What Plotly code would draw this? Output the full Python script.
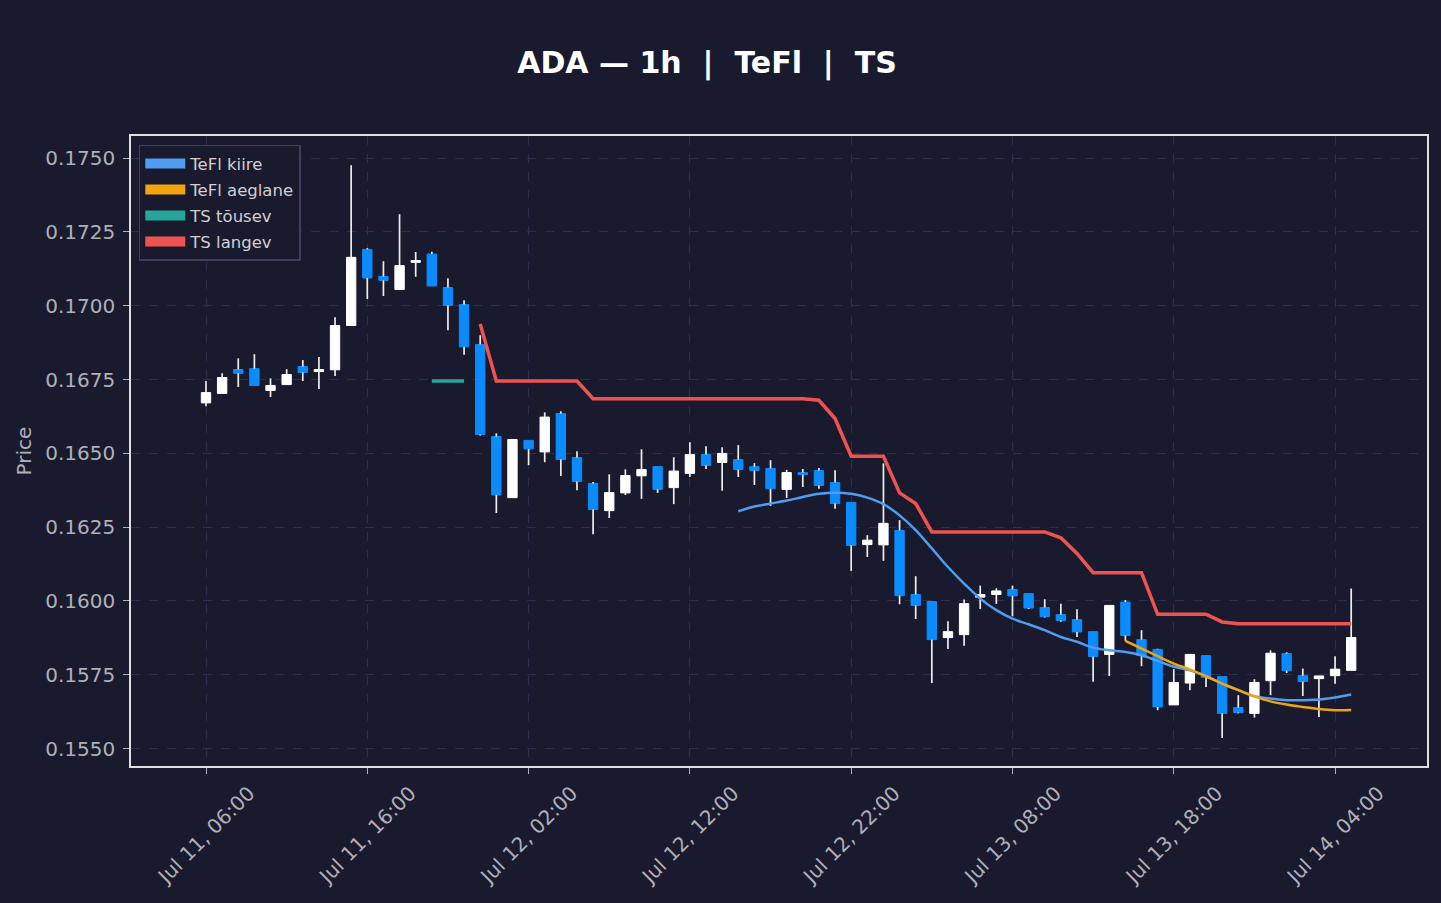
import pandas as pd
import plotly.graph_objects as go

# ---------------- data ----------------
times = pd.date_range("2025-07-11 06:00", periods=72, freq="h")

open_ = [0.16671, 0.16703, 0.16784, 0.16787, 0.16713, 0.16733, 0.16794, 0.16777, 0.16783, 0.16933,
         0.17191, 0.17099, 0.17055, 0.17147, 0.17175, 0.17062, 0.17004, 0.16869, 0.16557, 0.16350,
         0.16544, 0.16505, 0.16635, 0.16486, 0.16398, 0.16306, 0.16366, 0.16424, 0.16455, 0.16384,
         0.16432, 0.16496, 0.16469, 0.16479, 0.16455, 0.16449, 0.16378, 0.16435, 0.16442, 0.16401,
         0.16334, 0.16191, 0.16190, 0.16239, 0.16022, 0.15998, 0.15876, 0.15886, 0.16013, 0.16022,
         0.16039, 0.16025, 0.15978, 0.15954, 0.15937, 0.15896, 0.15819, 0.15996, 0.15869, 0.15836,
         0.15648, 0.15722, 0.15815, 0.15744, 0.15639, 0.15619, 0.15730, 0.15822, 0.15747, 0.15737,
         0.15747, 0.15765]
high = [0.16745, 0.16771, 0.16822, 0.16836, 0.16754, 0.16785, 0.16816, 0.16826, 0.16961, 0.17476,
        0.17195, 0.17151, 0.17310, 0.17182, 0.17183, 0.17093, 0.17019, 0.16900, 0.16568, 0.16547,
        0.16544, 0.16639, 0.16643, 0.16507, 0.16403, 0.16429, 0.16446, 0.16514, 0.16455, 0.16487,
        0.16538, 0.16524, 0.16521, 0.16528, 0.16467, 0.16477, 0.16444, 0.16447, 0.16450, 0.16443,
        0.16334, 0.16223, 0.16466, 0.16274, 0.16084, 0.15998, 0.15931, 0.16005, 0.16052, 0.16043,
        0.16052, 0.16025, 0.16006, 0.15991, 0.15972, 0.15896, 0.15985, 0.16003, 0.15901, 0.15838,
        0.15769, 0.15819, 0.15815, 0.15744, 0.15681, 0.15735, 0.15833, 0.15826, 0.15771, 0.15747,
        0.15813, 0.16042]
low = [0.16660, 0.16703, 0.16725, 0.16730, 0.16691, 0.16733, 0.16745, 0.16718, 0.16762, 0.16933,
       0.17023, 0.17033, 0.17055, 0.17098, 0.17067, 0.16917, 0.16834, 0.16560, 0.16298, 0.16350,
       0.16460, 0.16470, 0.16423, 0.16375, 0.16226, 0.16281, 0.16359, 0.16346, 0.16366, 0.16328,
       0.16420, 0.16447, 0.16373, 0.16420, 0.16393, 0.16322, 0.16349, 0.16386, 0.16380, 0.16312,
       0.16102, 0.16149, 0.16136, 0.15989, 0.15939, 0.15722, 0.15837, 0.15848, 0.15973, 0.15990,
       0.15948, 0.15973, 0.15944, 0.15930, 0.15878, 0.15726, 0.15746, 0.15865, 0.15779, 0.15630,
       0.15648, 0.15698, 0.15709, 0.15536, 0.15619, 0.15605, 0.15681, 0.15756, 0.15678, 0.15607,
       0.15720, 0.15765]
close = [0.16706, 0.16757, 0.16771, 0.16730, 0.16730, 0.16767, 0.16774, 0.16784, 0.16933, 0.17164,
         0.17094, 0.17086, 0.17136, 0.17153, 0.17067, 0.17001, 0.16861, 0.16564, 0.16359, 0.16547,
         0.16515, 0.16623, 0.16479, 0.16405, 0.16310, 0.16367, 0.16425, 0.16445, 0.16378, 0.16440,
         0.16496, 0.16459, 0.16500, 0.16445, 0.16442, 0.16380, 0.16435, 0.16428, 0.16391, 0.16330,
         0.16188, 0.16206, 0.16263, 0.16018, 0.15985, 0.15869, 0.15896, 0.15991, 0.16022, 0.16034,
         0.16017, 0.15976, 0.15947, 0.15934, 0.15895, 0.15812, 0.15985, 0.15883, 0.15815, 0.15641,
         0.15724, 0.15819, 0.15741, 0.15619, 0.15622, 0.15724, 0.15823, 0.15764, 0.15727, 0.15746,
         0.15769, 0.15876]

# TeFl kiire (from candle 33)
tefl_fast_start = 33
tefl_fast = [0.16304, 0.16320, 0.16330, 0.16340, 0.16352, 0.16363, 0.16367, 0.16363, 0.16350, 0.16328,
             0.16290, 0.16240, 0.16178, 0.16115, 0.16059, 0.16008, 0.15969, 0.15940, 0.15921, 0.15901,
             0.15878, 0.15862, 0.15842, 0.15833, 0.15827, 0.15816, 0.15797, 0.15777, 0.15765, 0.15745,
             0.15720, 0.15698, 0.15677, 0.15670, 0.15664, 0.15664, 0.15666, 0.15673, 0.15683]
# TeFl aeglane (from candle 57)
tefl_slow_start = 57
tefl_slow = [0.15865, 0.15839, 0.15813, 0.15788, 0.15768, 0.15745, 0.15720, 0.15698, 0.15677, 0.15660,
             0.15649, 0.15641, 0.15634, 0.15630, 0.15631]
# TS tõusev (candles 14-16)
ts_up_start = 14
ts_up = [0.16745, 0.16745, 0.16745]
# TS langev (from candle 17)
ts_down_start = 17
ts_down = [0.16938, 0.16745, 0.16745, 0.16745, 0.16745, 0.16745, 0.16745,
           0.16685, 0.16685, 0.16685, 0.16685, 0.16685, 0.16685, 0.16685, 0.16685, 0.16685, 0.16685,
           0.16685, 0.16685, 0.16685, 0.16685, 0.16680, 0.16618, 0.16490, 0.16490, 0.16490, 0.16366,
           0.16330, 0.16234, 0.16234, 0.16234, 0.16234, 0.16234, 0.16234, 0.16234, 0.16234, 0.16214,
           0.16161, 0.16096, 0.16096, 0.16096, 0.16096, 0.15955, 0.15955, 0.15955, 0.15955, 0.15929,
           0.15923, 0.15923, 0.15923, 0.15923, 0.15923, 0.15923, 0.15923, 0.15923]

# ---------------- style ----------------
BG = "#1a1a2e"
UP = "#ffffff"
DOWN = "#0a8cff"
WICK = "#eeeeee"
C_FAST = "#4f9cf0"
C_SLOW = "#f2a30f"
C_UP = "#26a69a"
C_DOWN = "#ef5350"
GRID = "#2d2d4d"
FONT = "DejaVu Sans"
TICK_C = "#b0b0b8"

fig = go.Figure()

# candle bodies
bases = [min(o, c) for o, c in zip(open_, close)]
heights = [max(abs(c - o), 0.000035) for o, c in zip(open_, close)]
colors = [UP if c >= o else DOWN for o, c in zip(open_, close)]
fig.add_trace(go.Bar(
    x=times, y=heights, base=bases, width=0.58 * 3600000,
    marker=dict(color=colors, line=dict(color=colors, width=1)),
    showlegend=False, hoverinfo="skip"))

# wicks (upper and lower segments)
wx, wy = [], []
for t, o, h, l, c in zip(times, open_, high, low, close):
    top, bot = max(o, c), min(o, c)
    wx += [t, t, None, t, t, None]
    wy += [h, top, None, bot, l, None]
fig.add_trace(go.Scatter(x=wx, y=wy, mode="lines", line=dict(color=WICK, width=1.7),
                         showlegend=False, hoverinfo="skip"))

# indicator lines
fig.add_trace(go.Scatter(x=times[ts_up_start:ts_up_start + len(ts_up)], y=ts_up, mode="lines",
                         line=dict(color=C_UP, width=3.5), showlegend=False))
fig.add_trace(go.Scatter(x=times[ts_down_start:ts_down_start + len(ts_down)], y=ts_down, mode="lines",
                         line=dict(color=C_DOWN, width=3.5), showlegend=False))
fig.add_trace(go.Scatter(x=times[tefl_fast_start:tefl_fast_start + len(tefl_fast)], y=tefl_fast,
                         mode="lines", line=dict(color=C_FAST, width=2.5, shape="spline"), showlegend=False))
fig.add_trace(go.Scatter(x=times[tefl_slow_start:tefl_slow_start + len(tefl_slow)], y=tefl_slow,
                         mode="lines", line=dict(color=C_SLOW, width=2.5, shape="spline"), showlegend=False))

# legend patches
for k, (name, col) in enumerate([("TeFl kiire", C_FAST), ("TeFl aeglane", C_SLOW),
                                 ("TS tõusev", C_UP), ("TS langev", C_DOWN)]):
    fig.add_trace(go.Scatter(x=[None], y=[None], mode="lines", name=name, legendgroup=f"g{k}",
                             line=dict(color=col, width=12), showlegend=True))

x0 = pd.Timestamp("2025-07-11 06:00")
fig.update_layout(
    width=1441, height=903,
    paper_bgcolor=BG, plot_bgcolor=BG,
    margin=dict(l=131, r=14, t=136, b=137),
    barmode="overlay",
    font=dict(family=FONT, color=TICK_C, size=17),
    title=dict(text="ADA — 1h\u00a0\u00a0|\u00a0\u00a0TeFl\u00a0\u00a0|\u00a0\u00a0TS",
               x=707 / 1441, xref="container", xanchor="center",
               y=1 - 62 / 903, yref="container", yanchor="middle",
               font=dict(family=FONT, size=30, color="#ffffff", weight="bold")),
    legend=dict(x=0.006, y=0.986, xanchor="left", yanchor="top",
                bgcolor=BG, bordercolor="#3e3e5e", borderwidth=1.5,
                font=dict(family=FONT, size=16.5, color="#d0d0d0"),
                tracegroupgap=1.5, itemwidth=40),
    showlegend=True,
)
fig.update_xaxes(
    type="date",
    range=[x0 - pd.Timedelta(hours=4.65), x0 + pd.Timedelta(hours=75.7)],
    tick0=x0, dtick=10 * 3600000, tickformat="%b %d, %H:%M", tickangle=-45,
    showgrid=True, gridcolor=GRID, griddash="dash", gridwidth=1,
    showline=True, linecolor="#e0e0e0", linewidth=1.5, mirror=True,
    ticks="outside", ticklen=6, tickcolor=TICK_C,
    tickfont=dict(family=FONT, size=20, color=TICK_C),
    ticklabelshift=43, ticklabelstandoff=0,
    zeroline=False,
)
fig.update_yaxes(
    range=[0.15441, 0.17575],
    tickvals=[0.1550, 0.1575, 0.1600, 0.1625, 0.1650, 0.1675, 0.1700, 0.1725, 0.1750],
    tickformat=".4f",
    showgrid=True, gridcolor=GRID, griddash="dash", gridwidth=1,
    showline=True, linecolor="#e0e0e0", linewidth=1.5, mirror=True,
    ticks="outside", ticklen=6, tickcolor=TICK_C,
    tickfont=dict(family=FONT, size=20, color=TICK_C),
    ticklabelstandoff=4,
    title=dict(text="Price", font=dict(family=FONT, size=20, color=TICK_C), standoff=8),
    zeroline=False,
)

fig.write_html("out.html")
